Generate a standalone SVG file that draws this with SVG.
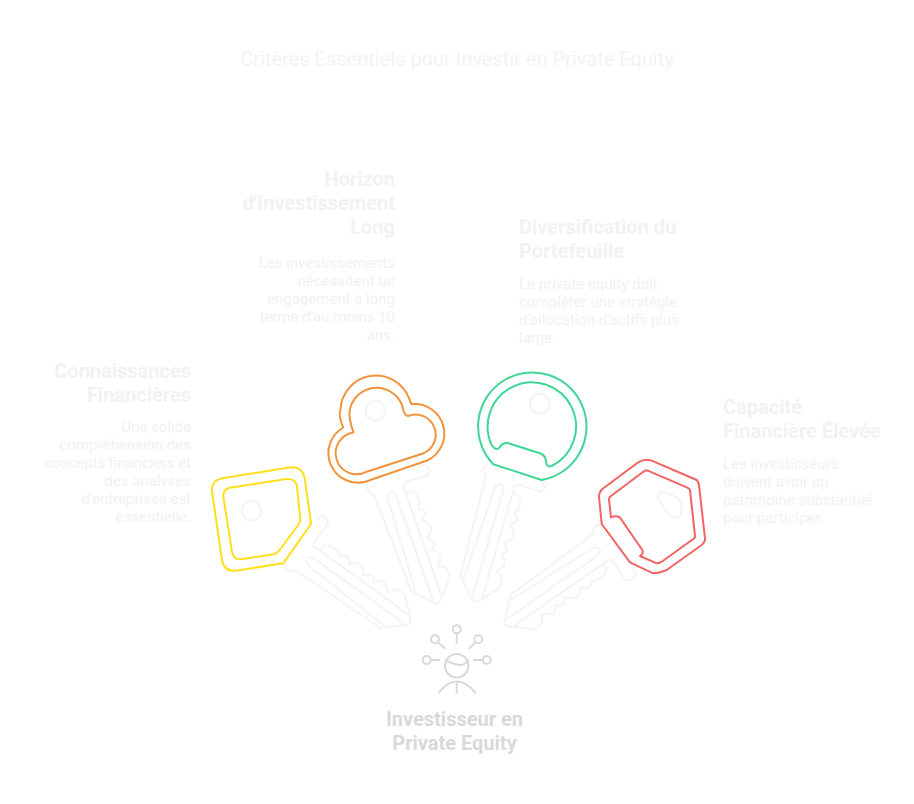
<svg xmlns="http://www.w3.org/2000/svg" width="914" height="804" viewBox="0 0 914 804">
<style>
text{font-family:Roboto,"Liberation Sans",sans-serif}
.title{font-size:20px;font-weight:400;fill:#f3f3f3;text-anchor:middle}
.h{font-size:20px;font-weight:700;fill:#f2f2f2}
.b{font-size:15px;font-weight:400;fill:#f1f1f1}
.r{text-anchor:end}
.p{font-size:20px;font-weight:700;fill:#d9d9d9;text-anchor:middle}
.k{fill:none;stroke:#f4f4f4;stroke-width:2;stroke-linejoin:round;stroke-linecap:round}
.head{fill:none;stroke-width:2;stroke-linejoin:round}
.i{fill:none;stroke:#d9d9d9;stroke-width:2;stroke-linecap:round}
</style>
<defs>
<g id="blade" class="k">
<path d="M29,-135Q36,-136 36,-130Q36,-125 32,-123L14,-124Q6,-124 6,-119Q6,-114 11,-113.500Q15,-113 15.600,-110Q17.500,-105 16.300,-100Q15,-96 13.300,-94.500Q17,-93 18.200,-89Q16,-85 12.300,-82.700Q17,-80 19,-73Q17,-68 12,-64Q15,-62 17,-57.400Q16,-54 12.600,-52Q16,-50 18.400,-44Q16,-38 12,-34.600Q16,-33 19,-31Q21,-25 20.500,-20L3.500,-1Q1,1.500 -2,0.500L-21,-20L-24,-123Q-28,-125 -28.500,-130Q-28.500,-133 -26,-135"/>
<path d="M-17,-18L-12.500,-113Q-12,-119 -7.500,-119.500Q-4,-119.500 -3.500,-113L-3.500,-3.500"/>
<path d="M6.500,-119L6,-3.500"/>
</g>
</defs>
<text class="title" x="457" y="66">Critères Essentiels pour Investir en Private Equity</text>
<g id="connectors">
<use href="#blade" transform="translate(409,622.500) rotate(-54.300)"/>
<use href="#blade" transform="translate(437.500,602.500) rotate(-19.400)"/>
<use href="#blade" transform="translate(475,601) rotate(16)"/>
<use href="#blade" transform="translate(506,624) rotate(55)"/>
</g>
<g id="node-yellow">
<path class="head" stroke="#ffe01b" d="M311,524L283.300,563.300L236,570.700Q224,572 222,560L212,491.700Q210.700,480.700 222,478.300L290.700,467.300Q302.700,466.700 304.700,478.300Z"/>
<path class="head" stroke="#ffe01b" d="M296.700,485L300.300,518.300Q300.700,521.700 298.300,525L280,549.300Q277.300,553.300 273.300,554.300L241.700,559.300Q233.300,560 232,551.700L223.300,496.700Q222.700,489.300 230,487.700L286,479Q294.700,478.300 296.700,485Z"/>
<circle class="k" cx="251.700" cy="511" r="9.700"/>
<text class="h r" x="191" y="378">Connaissances</text>
<text class="h r" x="191" y="402">Financières</text>
<text class="b r" x="191" y="432">Une solide</text>
<text class="b r" x="191" y="450">compréhension des</text>
<text class="b r" x="191" y="468">concepts financiers et</text>
<text class="b r" x="191" y="486">des analyses</text>
<text class="b r" x="191" y="504">d'entreprises est</text>
<text class="b r" x="191" y="522">essentielle.</text>
</g>
<g id="node-orange">
<path class="head" stroke="#f2943c" d="M411.700,404.300A29.500,29.500 0 0 1 427,460.500L366,481.500A29.500,29.500 0 0 1 343.300,427.500Q338,416 340.500,410A35.500,35.500 0 0 1 409,398Q410,402 411.700,404.300Z"/>
<path class="head" stroke="#f2943c" d="M408,416A20,20 0 0 1 423,453.500L366.700,471.700A21,21 0 1 1 353.500,432.500Q349,420 349.500,412A27.300,27.300 0 0 1 402,405Q404,416 408,416Z"/>
<circle class="k" cx="375.300" cy="410.700" r="9.700"/>
<text class="h r" x="395" y="186">Horizon</text>
<text class="h r" x="395" y="210">d'Investissement</text>
<text class="h r" x="395" y="234">Long</text>
<text class="b r" x="395" y="268">Les investissements</text>
<text class="b r" x="395" y="286">nécessitent un</text>
<text class="b r" x="395" y="304">engagement à long</text>
<text class="b r" x="395" y="322">terme d'au moins 10</text>
<text class="b r" x="395" y="340">ans.</text>
</g>
<g id="node-green">
<path class="head" stroke="#3fd795" d="M541.700,480L493.300,464.300A54.200,54.200 0 1 1 541.700,480Z"/>
<path class="head" stroke="#3fd795" d="M491.700,445A44.200,44.200 0 1 1 551.700,466Q546.700,467.700 546,461.700Q546,455.700 540,453.300L508.300,443.300Q503.300,442.300 500,446.700Q496.700,452.300 491.700,445Z"/>
<circle class="k" cx="540" cy="403.700" r="10"/>
<text class="h" x="519" y="234">Diversification du</text>
<text class="h" x="519" y="258">Portefeuille</text>
<text class="b" x="519" y="289">Le private equity doit</text>
<text class="b" x="519" y="307">compléter une stratégie</text>
<text class="b" x="519" y="325">d'allocation d'actifs plus</text>
<text class="b" x="519" y="343">large.</text>
</g>
<g id="node-red">
<path class="head" stroke="#f26464" d="M601.700,524L630,562.300L651.700,572.700Q657.300,574 666.700,570L701.700,545Q705.500,541.700 705,538.300L699,485Q698.500,482 696.700,480L651.700,460.700Q645,458 638.300,462.300L603.300,488.300Q599,492 599,496.700Z"/>
<path class="head" stroke="#f26464" d="M611,517.300L609,500Q609,498 610,496.700L643.300,471.700Q645.500,470 647.700,470.700L686.700,487.300Q689.500,488.500 690,490L695,536Q695,537.500 694.300,538.300L661.700,561.700Q659,563.500 656.700,563.300L640,556Q644,553.500 642.300,550L621.700,520Q619,514.500 611,517.300Z"/>
<path class="k" d="M658.300,495Q661,490 665,492L676,497Q680,499 681,505L681.500,511Q681,518 675,518Q672,518 668,513L660,502Q657,498 658.300,495Z"/>
<text class="h" x="723" y="414">Capacité</text>
<text class="h" x="723" y="438">Financière Élevée</text>
<text class="b" x="723" y="469">Les investisseurs</text>
<text class="b" x="723" y="487">doivent avoir un</text>
<text class="b" x="723" y="505">patrimoine substantiel</text>
<text class="b" x="723" y="523">pour participer.</text>
</g>
<g id="node-investor">
<g class="i">
<circle cx="456.700" cy="665.700" r="11.700"/>
<path d="M446.500,661Q456,665 460,665Q465,665 468,660"/>
<path d="M439,692.700Q447,681.500 456.700,681.500Q467,681.500 475,692.700M456.700,681.500V692.700"/>
<circle cx="456.700" cy="629.300" r="4"/><path d="M456.700,633.300V642.700"/>
<circle cx="435" cy="639.300" r="4"/><path d="M438.300,642.700L445,648.300"/>
<circle cx="478.300" cy="639.300" r="4"/><path d="M475,642.700L469.300,648.300"/>
<circle cx="426.700" cy="660" r="4"/><path d="M430.700,660H439.300"/>
<circle cx="486.700" cy="660" r="4"/><path d="M474,660H482.700"/>
</g>
<text class="p" x="454.500" y="726">Investisseur en</text>
<text class="p" x="454.500" y="750">Private Equity</text>
</g>
</svg>
